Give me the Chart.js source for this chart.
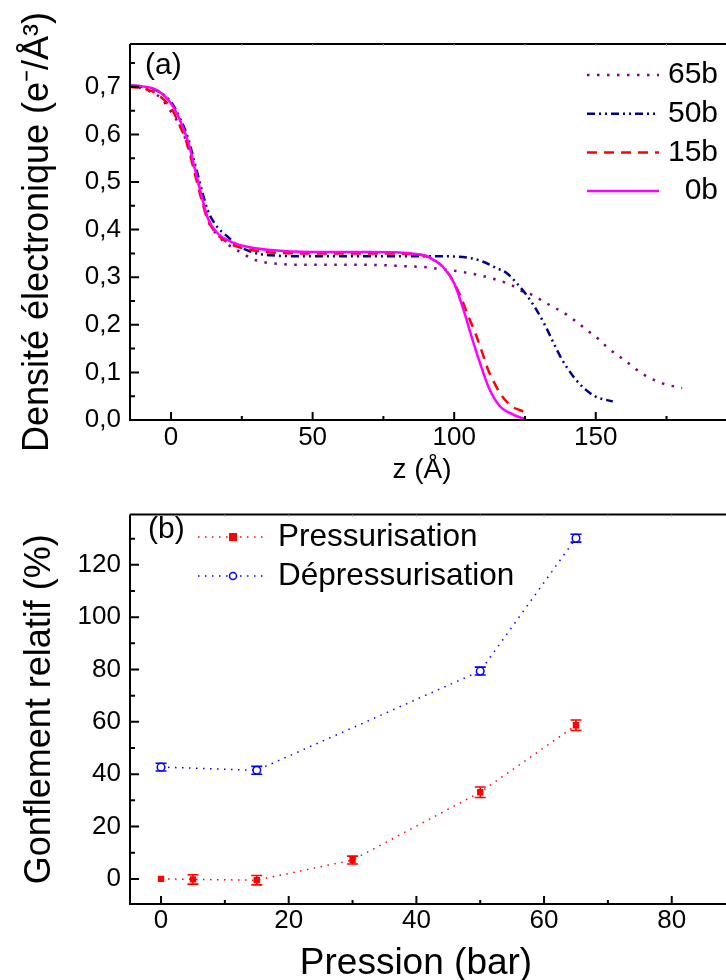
<!DOCTYPE html>
<html>
<head>
<meta charset="utf-8">
<script src="https://cdn.jsdelivr.net/npm/chart.js@4.4.1/dist/chart.umd.min.js"></script>
<style>
html, body { margin: 0; padding: 0; background: #fff; overflow: hidden; width: 726px; height: 980px; }
#boxA { position: absolute; left: 0; top: 0; }
#boxB { position: absolute; left: 0; top: 490px; }
</style>
</head>
<body>
<div id="boxA"><canvas id="chartA" width="726" height="490"></canvas></div>
<div id="boxB"><canvas id="chartB" width="726" height="500"></canvas></div>
<script>
// ---- data, panel (a) : density profiles ----
const profileLabels = ['65b', '50b', '15b', '0b'];

const z65 = [-15, -11, -7, -3.5, -1, 4, 7, 10, 13, 17, 21, 25, 28.5, 32.5, 38, 50, 70, 83, 90, 94, 102, 109, 113, 120, 123.5, 127.5, 131, 134.5, 138, 141.5, 147.5, 151, 154, 160.5, 166.5, 173.5, 180.5];
const d65 = [0.700, 0.698, 0.689, 0.676, 0.656, 0.607, 0.555, 0.490, 0.420, 0.385, 0.365, 0.351, 0.339, 0.332, 0.328, 0.326, 0.326, 0.323, 0.321, 0.318, 0.312, 0.304, 0.298, 0.284, 0.272, 0.263, 0.251, 0.239, 0.228, 0.214, 0.186, 0.170, 0.153, 0.124, 0.097, 0.077, 0.067];

const z50 = [-15, -10, -5, 0, 3, 6, 8.5, 11, 13, 16, 20, 24, 28, 35, 50, 80, 95, 106, 110, 115, 118.5, 122, 125.5, 129, 132, 135, 138, 142, 146, 150, 156];
const d50 = [0.703, 0.700, 0.692, 0.668, 0.636, 0.592, 0.537, 0.480, 0.440, 0.408, 0.385, 0.365, 0.354, 0.346, 0.344, 0.344, 0.344, 0.340, 0.333, 0.319, 0.309, 0.288, 0.263, 0.232, 0.200, 0.163, 0.128, 0.092, 0.066, 0.049, 0.039];

const z15 = [-15, -10, -5, 0, 3, 6, 8.5, 11, 13, 16, 21, 27, 35, 50, 70, 85, 90, 93, 96, 99, 102, 105, 107.5, 110, 112, 114, 116, 118, 120.5, 123, 125];
const d15 = [0.700, 0.697, 0.685, 0.655, 0.620, 0.573, 0.515, 0.458, 0.420, 0.392, 0.370, 0.359, 0.352, 0.350, 0.350, 0.349, 0.344, 0.336, 0.322, 0.298, 0.263, 0.218, 0.182, 0.140, 0.105, 0.080, 0.058, 0.042, 0.028, 0.021, 0.017];

const z0 = [-15, -10, -5, 0, 3, 6, 8.5, 11, 13, 16, 21, 27, 35, 50, 70, 85, 90, 93, 96, 100, 103, 106, 109, 112, 116, 121, 125];
const d0 = [0.703, 0.701, 0.693, 0.665, 0.632, 0.585, 0.526, 0.466, 0.424, 0.395, 0.375, 0.364, 0.357, 0.353, 0.353, 0.350, 0.345, 0.335, 0.322, 0.287, 0.237, 0.178, 0.122, 0.071, 0.030, 0.011, 0.002];

const xTicksA = [0, 50, 100, 150];
const xMinorA = [25, 75, 125, 175];
const yTicksA = [0, 0.1, 0.2, 0.3, 0.4, 0.5, 0.6, 0.7];
const yMinorA = [0.05, 0.15, 0.25, 0.35, 0.45, 0.55, 0.65, 0.75];

// ---- data, panel (b) : swelling vs pressure ----
const seriesLabels = ['Pressurisation', 'Dépressurisation'];
const pressionsP = [0, 5, 15, 30, 50, 65];
const gonflP = [0, -0.2, -0.5, 7.2, 33.1, 58.7];
const errP = [0, 1.8, 1.8, 1.5, 2, 2];
const pressionsD = [0, 15, 50, 65];
const gonflD = [42.7, 41.5, 79.4, 130.2];
const errD = [1.5, 1.5, 1.5, 1.5];

const xTicksB = [0, 20, 40, 60, 80];
const xMinorB = [10, 30, 50, 70];
const yTicksB = [0, 20, 40, 60, 80, 100, 120];
const yMinorB = [-10, 10, 30, 50, 70, 90, 110, 130];

const FONT = '"Liberation Sans", Arial, sans-serif';
Chart.defaults.font.family = FONT;
Chart.defaults.color = '#000';

function pts(xs, ys) { return xs.map((v, i) => ({x: v, y: ys[i]})); }

// frame with inward ticks
function framePlugin(xMajor, xMinor, yMajor, yMinor, topMarks) {
    return {
        id: 'frame',
        afterDraw(chart) {
            const ctx = chart.ctx, a = chart.chartArea;
            const sx = chart.scales.x, sy = chart.scales.y;
            ctx.save();
            ctx.strokeStyle = '#000';
            ctx.lineWidth = 2;
            ctx.beginPath();
            ctx.moveTo(a.left, a.top); ctx.lineTo(a.right, a.top);
            ctx.moveTo(a.left, a.top); ctx.lineTo(a.left, a.bottom); ctx.lineTo(a.right, a.bottom);
            yMajor.forEach(v => { const p = sy.getPixelForValue(v); ctx.moveTo(a.left, p); ctx.lineTo(a.left + 9, p); });
            yMinor.forEach(v => { const p = sy.getPixelForValue(v); if (p > a.top && p < a.bottom) { ctx.moveTo(a.left, p); ctx.lineTo(a.left + 5, p); } });
            xMajor.forEach(v => { const p = sx.getPixelForValue(v); ctx.moveTo(p, a.bottom); ctx.lineTo(p, a.bottom - 8); });
            xMinor.forEach(v => { const p = sx.getPixelForValue(v); ctx.moveTo(p, a.bottom); ctx.lineTo(p, a.bottom - 4); });
            ctx.stroke();
            ctx.strokeStyle = '#999';
            ctx.lineWidth = 1;
            ctx.beginPath();
            topMarks.forEach(v => { const p = sx.getPixelForValue(v); ctx.moveTo(p, a.top); ctx.lineTo(p, a.top + 2); });
            ctx.stroke();
            ctx.restore();
        }
    };
}

// free text: panel letters and x titles
function textPlugin(items) {
    return {
        id: 'texts',
        afterDraw(chart) {
            const ctx = chart.ctx;
            ctx.save();
            ctx.fillStyle = '#000';
            ctx.textBaseline = 'middle';
            items.forEach(t => {
                ctx.font = t.size + 'px ' + FONT;
                ctx.textAlign = t.align;
                ctx.fillText(t.text, t.x, t.y);
            });
            ctx.restore();
        }
    };
}

const legendA = {
    id: 'legendA',
    afterDraw(chart) {
        const ctx = chart.ctx;
        ctx.save();
        ctx.font = '30px ' + FONT;
        ctx.textBaseline = 'middle';
        ctx.textAlign = 'right';
        chart.data.datasets.forEach((ds, i) => {
            const yy = 75 + i * 38.7;
            ctx.strokeStyle = ds.borderColor;
            ctx.lineWidth = ds.borderWidth;
            ctx.setLineDash(ds.borderDash || []);
            ctx.beginPath(); ctx.moveTo(587, yy); ctx.lineTo(659, yy); ctx.stroke();
            ctx.setLineDash([]);
            ctx.fillStyle = '#000';
            ctx.fillText(ds.label, 718, yy);
        });
        ctx.restore();
    }
};

const legendB = {
    id: 'legendB',
    afterDraw(chart) {
        const ctx = chart.ctx;
        ctx.save();
        ctx.font = '31.5px ' + FONT;
        ctx.textBaseline = 'middle';
        chart.data.datasets.forEach((ds, i) => {
            const yy = 47 + i * 39;
            ctx.strokeStyle = ds.borderColor;
            ctx.lineWidth = ds.borderWidth;
            ctx.setLineDash(ds.borderDash);
            ctx.beginPath(); ctx.moveTo(198, yy); ctx.lineTo(268, yy); ctx.stroke();
            ctx.setLineDash([]);
            ctx.fillStyle = ds.pointBackgroundColor;
            ctx.lineWidth = 1.5;
            if (ds.pointStyle === 'rect') {
                ctx.fillRect(229, yy - 4, 8, 8);
            } else {
                ctx.beginPath(); ctx.arc(233, yy, 3.5, 0, Math.PI * 2); ctx.fill(); ctx.stroke();
            }
            ctx.fillStyle = '#000';
            ctx.fillText(ds.label, 278, yy);
        });
        ctx.restore();
    }
};

const errorBars = {
    id: 'errorBars',
    beforeDatasetsDraw(chart) {
        const ctx = chart.ctx, sx = chart.scales.x, sy = chart.scales.y;
        chart.data.datasets.forEach(ds => {
            ctx.save();
            ctx.strokeStyle = ds.borderColor;
            ctx.lineWidth = 1.6;
            ds.data.forEach((p, i) => {
                const e = ds.errors[i];
                if (!e) return;
                const px = sx.getPixelForValue(p.x);
                const t = sy.getPixelForValue(p.y + e), b = sy.getPixelForValue(p.y - e);
                ctx.beginPath();
                ctx.moveTo(px, t); ctx.lineTo(px, b);
                ctx.moveTo(px - 5.5, t); ctx.lineTo(px + 5.5, t);
                ctx.moveTo(px - 5.5, b); ctx.lineTo(px + 5.5, b);
                ctx.stroke();
            });
            ctx.restore();
        });
    }
};

////// chart (a) //////
const chartA = new Chart(document.getElementById('chartA'), {
    type: 'line',
    data: {
        datasets: [
            {label: profileLabels[0], data: pts(z65, d65), borderColor: '#800080', borderWidth: 2.5, borderDash: [2.5, 7.5], order: 4},
            {label: profileLabels[1], data: pts(z50, d50), borderColor: '#00008B', borderWidth: 2.5, borderDash: [8, 4, 2, 4, 2, 4], order: 3},
            {label: profileLabels[2], data: pts(z15, d15), borderColor: '#FF0000', borderWidth: 2.5, borderDash: [10, 7], order: 2},
            {label: profileLabels[3], data: pts(z0, d0), borderColor: '#FF00FF', borderWidth: 2.5, order: 1}
        ]
    },
    options: {
        responsive: false,
        animation: false,
        layout: {autoPadding: false, padding: {top: 44, left: 0, right: 0, bottom: 0}},
        elements: {point: {radius: 0}, line: {cubicInterpolationMode: 'monotone', fill: false}},
        plugins: {legend: {display: false}, tooltip: {enabled: false}},
        scales: {
            x: {
                type: 'linear', min: -14.5, max: 196,
                grid: {display: false, drawTicks: false}, border: {display: false},
                afterBuildTicks: s => { s.ticks = xTicksA.map(v => ({value: v})); },
                afterFit: s => { s.height = 70; },
                ticks: {font: {size: 26}, padding: 2, maxRotation: 0}
            },
            y: {
                type: 'linear', min: 0, max: 0.79,
                grid: {display: false, drawTicks: false}, border: {display: false},
                afterBuildTicks: s => { s.ticks = yTicksA.map(v => ({value: v})); },
                afterFit: s => { s.width = 130; },
                ticks: {font: {size: 26}, padding: 9, callback: v => v.toFixed(1).replace('.', ',')},
                title: {display: true, text: 'Densité électronique (e⁻/Å³)', font: {size: 36}, padding: {top: 16, bottom: 0}}
            }
        }
    },
    plugins: [
        framePlugin(xTicksA, xMinorA, yTicksA, yMinorA, [25, 50, 75, 100, 125, 150, 175]),
        textPlugin([
            {text: '(a)', x: 145, y: 66, size: 30, align: 'left'},
            {text: 'z (Å)', x: 422, y: 470, size: 28, align: 'center'}
        ]),
        legendA
    ]
});

////// chart (b) //////
const chartB = new Chart(document.getElementById('chartB'), {
    type: 'line',
    data: {
        datasets: [
            {label: seriesLabels[0], data: pts(pressionsP, gonflP), errors: errP, borderColor: '#FF0000', borderWidth: 1.5, borderDash: [1.5, 5.5],
             pointStyle: 'rect', pointRadius: 4.5, pointBackgroundColor: '#FF0000', pointBorderColor: '#FF0000', pointBorderWidth: 0},
            {label: seriesLabels[1], data: pts(pressionsD, gonflD), errors: errD, borderColor: '#0000FF', borderWidth: 1.5, borderDash: [1.5, 5.5],
             pointStyle: 'circle', pointRadius: 3.8, pointBackgroundColor: '#FFFFFF', pointBorderColor: '#0000FF', pointBorderWidth: 1.5}
        ]
    },
    options: {
        responsive: false,
        animation: false,
        layout: {autoPadding: false, padding: {top: 19, left: 0, right: 0, bottom: 0}},
        elements: {line: {tension: 0, fill: false}},
        plugins: {legend: {display: false}, tooltip: {enabled: false}},
        scales: {
            x: {
                type: 'linear', min: -4.86, max: 88.5,
                grid: {display: false, drawTicks: false}, border: {display: false},
                afterBuildTicks: s => { s.ticks = xTicksB.map(v => ({value: v})); },
                afterFit: s => { s.height = 86; },
                ticks: {font: {size: 26}, padding: 1, maxRotation: 0}
            },
            y: {
                type: 'linear', min: -9.6, max: 139.2,
                grid: {display: false, drawTicks: false}, border: {display: false},
                afterBuildTicks: s => { s.ticks = yTicksB.map(v => ({value: v})); },
                afterFit: s => { s.width = 130; },
                ticks: {font: {size: 26}, padding: 9},
                title: {display: true, text: 'Gonflement relatif (%)', font: {size: 36}, padding: {top: 18, bottom: 0}}
            }
        }
    },
    plugins: [
        framePlugin(xTicksB, xMinorB, yTicksB, yMinorB, [10, 20, 30, 40, 50, 60, 70, 80]),
        textPlugin([
            {text: '(b)', x: 148, y: 40, size: 30, align: 'left'},
            {text: 'Pression (bar)', x: 416, y: 474, size: 37, align: 'center'}
        ]),
        legendB,
        errorBars
    ]
});
</script>
</body>
</html>
